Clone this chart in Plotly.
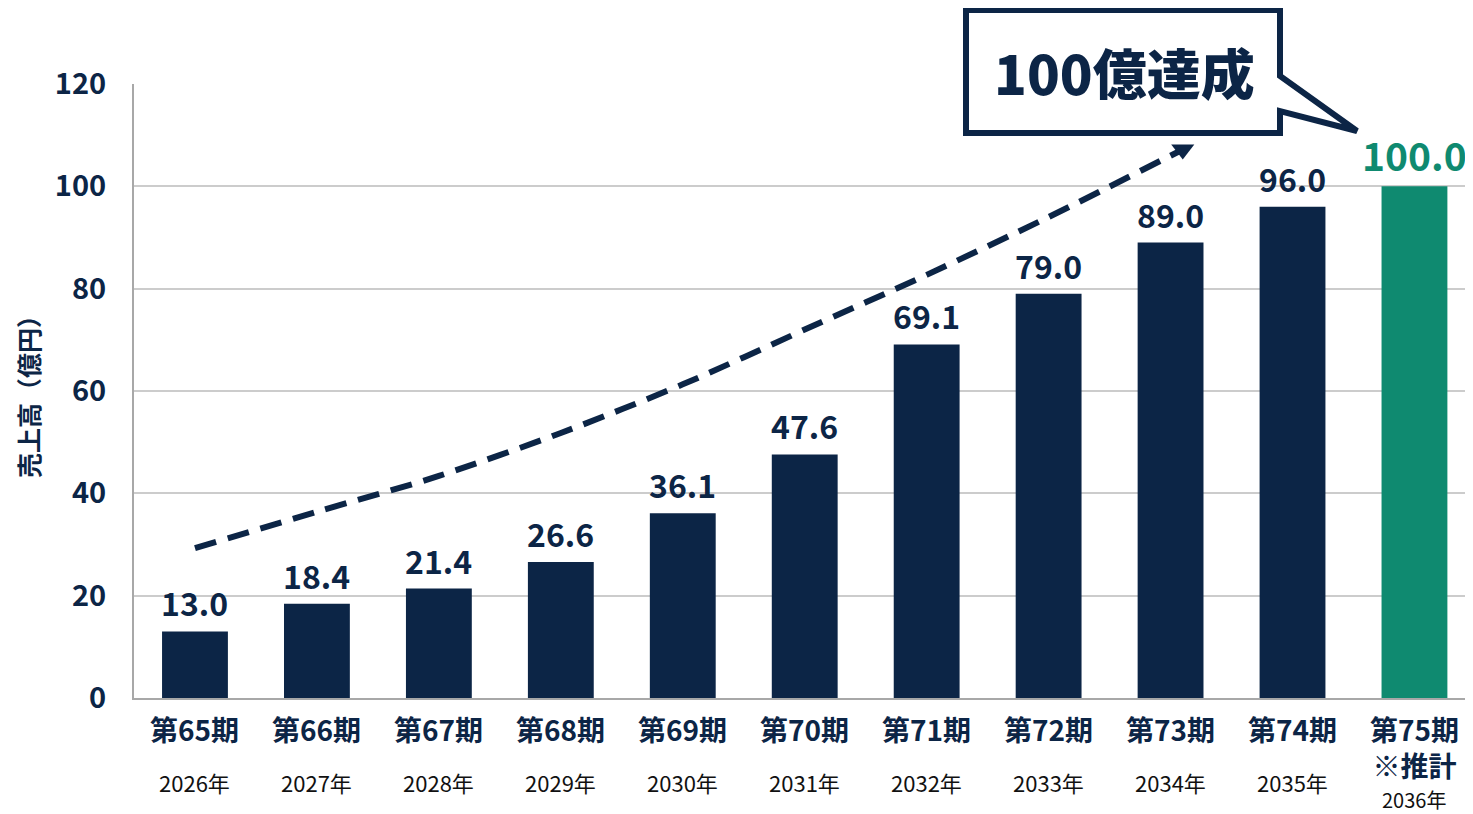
import plotly.graph_objects as go

# ---- data ----
periods = ["第65期", "第66期", "第67期", "第68期", "第69期", "第70期",
           "第71期", "第72期", "第73期", "第74期", "第75期<br>※推計"]
years = ["2026年", "2027年", "2028年", "2029年", "2030年", "2031年",
         "2032年", "2033年", "2034年", "2035年", "2036年"]
sales = [13.0, 18.4, 21.4, 26.6, 36.1, 47.6, 69.1, 79.0, 89.0, 96.0, 100.0]
is_estimate = [False] * 10 + [True]

# trend arrow (dashed curve), x in category index units
trend_x = [0, 1, 2, 3, 4, 5, 6, 7, 8.1]
trend_y = [29.3, 36.4, 43.4, 51.8, 61.3, 72.0, 82.7, 94.0, 107.2]

y_ticks = [0, 20, 40, 60, 80, 100, 120]
y_title = "売上高（億円）"
callout_text = "100億達成"

# ---- style ----
NAVY = "#0c2546"
TEAL = "#0f8a70"
FONT = "Noto Sans CJK JP, Noto Sans, sans-serif"
OFF = 8  # page body margin in the browser
SW, SH = 1473, 814  # screen size
W, H = SW - OFF, SH - OFF
PL, PR, PT, PB = 134, 1473, 84, 697.7  # plot area in screen pixels
ML, MR, MT, MB = PL - OFF, SW - PR, PT - OFF, SH - PB


def px_x(p):
    return (p - PL) / (PR - PL)


def px_y(p):
    return (PB - p) / (PB - PT)


x_idx = list(range(len(sales)))
bar_colors = [TEAL if e else NAVY for e in is_estimate]

fig = go.Figure()
fig.add_trace(go.Bar(
    x=x_idx, y=sales, width=0.54,
    marker=dict(color=bar_colors, line=dict(width=0)),
    hoverinfo="skip", showlegend=False,
))
fig.add_trace(go.Scatter(
    x=trend_x, y=trend_y, mode="lines",
    line=dict(color=NAVY, width=6, dash="22px,12px", shape="spline", smoothing=0.8),
    hoverinfo="skip", showlegend=False,
))
fig.add_trace(go.Scatter(
    x=[trend_x[-1]], y=[trend_y[-1]], mode="markers",
    marker=dict(symbol="triangle-down", size=20, color=NAVY),
    hoverinfo="skip", showlegend=False,
))

annotations = []
# value labels
for i, v in enumerate(sales):
    est = is_estimate[i]
    annotations.append(dict(
        x=i, y=v, xref="x", yref="y", text=f"{v:.1f}", showarrow=False,
        yanchor="middle", yshift=32 if est else 29,
        font=dict(family=FONT, size=39 if est else 32,
                  color=TEAL if est else NAVY, weight="bold"),
    ))
# category labels
for i, (p, yr) in enumerate(zip(periods, years)):
    two_lines = "<br>" in p
    annotations.append(dict(
        x=i, y=0, xref="x", yref="paper", text=p, showarrow=False,
        yanchor="top", yshift=-9,
        font=dict(family=FONT, size=28, color=NAVY, weight="bold"),
    ))
    annotations.append(dict(
        x=i, y=0, xref="x", yref="paper", text=yr, showarrow=False,
        yanchor="middle", yshift=-(101 if two_lines else 84),
        font=dict(family=FONT, size=20 if two_lines else 22, color="#111111"),
    ))
# y axis title
annotations.append(dict(
    x=0, y=0.5, xref="paper", yref="paper", text=y_title, showarrow=False,
    xshift=-106, textangle=-90, xanchor="center", yanchor="middle",
    font=dict(family=FONT, size=25, color=NAVY, weight="bold"),
))
# callout text
annotations.append(dict(
    x=px_x(1124), y=px_y(72), xref="paper", yref="paper", text=callout_text,
    showarrow=False, xanchor="center", yanchor="middle",
    font=dict(family=FONT, size=54, color=NAVY, weight=900),
))

# callout box with tail (screen pixel outline)
pts = [(966, 10), (1280, 10), (1280, 76), (1357, 131), (1280, 111),
       (1280, 133), (966, 133)]
path = "M " + " L ".join(f"{px_x(a):.5f},{px_y(b):.5f}" for a, b in pts) + " Z"
shapes = [dict(type="path", path=path, xref="paper", yref="paper",
               line=dict(color=NAVY, width=6), fillcolor="white", layer="above")]

fig.update_layout(
    width=W, height=H,
    margin=dict(l=ML, r=MR, t=MT, b=MB, pad=0),
    paper_bgcolor="white", plot_bgcolor="white",
    font=dict(family=FONT, color=NAVY),
    annotations=annotations,
    shapes=shapes,
    xaxis=dict(range=[-0.5, 10.48], showticklabels=False, showgrid=False,
               zeroline=False, showline=True, linecolor="#a8a8a8", linewidth=2,
               fixedrange=True),
    yaxis=dict(range=[0, 120], tickvals=y_ticks, showgrid=True,
               gridcolor="#cccccc", gridwidth=1.5, zeroline=False,
               showline=True, linecolor="#a8a8a8", linewidth=2,
               ticklabelstandoff=20,
               tickfont=dict(family=FONT, size=29, color=NAVY, weight="bold"),
               fixedrange=True),
)

fig.write_html("out.html")
